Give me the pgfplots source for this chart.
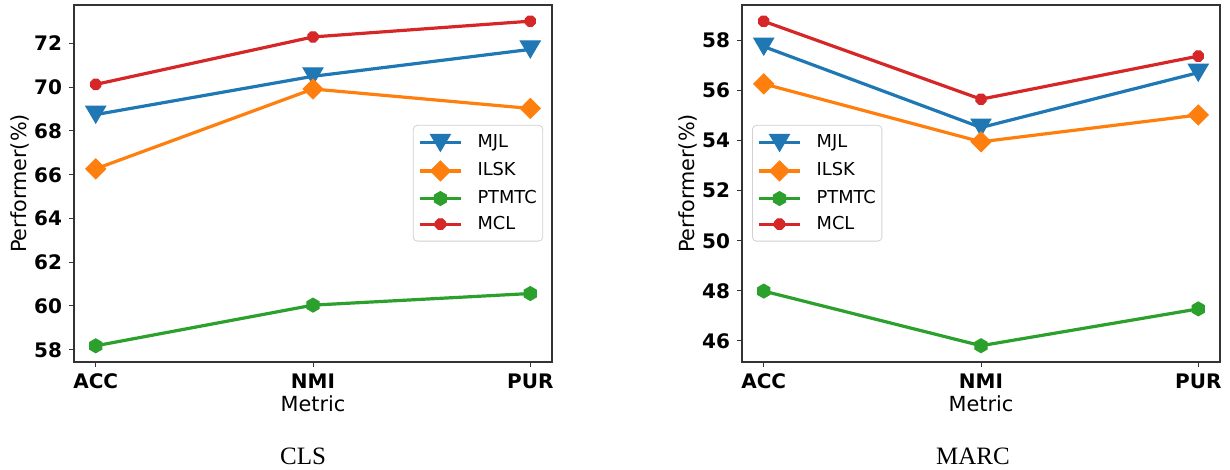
\documentclass[border=0pt]{standalone}
\usepackage{fontspec}
\setmainfont{DejaVu Sans}
\newfontfamily\capfont{Liberation Serif}
\usepackage{pgfplots}
\pgfplotsset{compat=1.18}

\definecolor{mblue}{HTML}{1F77B4}
\definecolor{morange}{HTML}{FF7F0E}
\definecolor{mgreen}{HTML}{2CA02C}
\definecolor{mred}{HTML}{D62728}

\pgfdeclareplotmark{tridown*}{%
  \pgfpathmoveto{\pgfqpoint{-\pgfplotmarksize}{0.85\pgfplotmarksize}}%
  \pgfpathlineto{\pgfqpoint{\pgfplotmarksize}{0.85\pgfplotmarksize}}%
  \pgfpathlineto{\pgfqpoint{0pt}{-0.85\pgfplotmarksize}}%
  \pgfpathclose\pgfusepathqfillstroke}
\pgfdeclareplotmark{dia*}{%
  \pgfpathmoveto{\pgfqpoint{0pt}{\pgfplotmarksize}}%
  \pgfpathlineto{\pgfqpoint{\pgfplotmarksize}{0pt}}%
  \pgfpathlineto{\pgfqpoint{0pt}{-\pgfplotmarksize}}%
  \pgfpathlineto{\pgfqpoint{-\pgfplotmarksize}{0pt}}%
  \pgfpathclose\pgfusepathqfillstroke}
\pgfdeclareplotmark{hex*}{%
  \pgfpathmoveto{\pgfqpointpolar{90}{\pgfplotmarksize}}%
  \pgfpathlineto{\pgfqpointpolar{150}{\pgfplotmarksize}}%
  \pgfpathlineto{\pgfqpointpolar{210}{\pgfplotmarksize}}%
  \pgfpathlineto{\pgfqpointpolar{270}{\pgfplotmarksize}}%
  \pgfpathlineto{\pgfqpointpolar{330}{\pgfplotmarksize}}%
  \pgfpathlineto{\pgfqpointpolar{30}{\pgfplotmarksize}}%
  \pgfpathclose\pgfusepathqfillstroke}
\pgfdeclareplotmark{oct*}{%
  \pgfpathmoveto{\pgfqpointpolar{22.5}{\pgfplotmarksize}}%
  \pgfpathlineto{\pgfqpointpolar{67.5}{\pgfplotmarksize}}%
  \pgfpathlineto{\pgfqpointpolar{112.5}{\pgfplotmarksize}}%
  \pgfpathlineto{\pgfqpointpolar{157.5}{\pgfplotmarksize}}%
  \pgfpathlineto{\pgfqpointpolar{202.5}{\pgfplotmarksize}}%
  \pgfpathlineto{\pgfqpointpolar{247.5}{\pgfplotmarksize}}%
  \pgfpathlineto{\pgfqpointpolar{292.5}{\pgfplotmarksize}}%
  \pgfpathlineto{\pgfqpointpolar{337.5}{\pgfplotmarksize}}%
  \pgfpathclose\pgfusepathqfillstroke}

\pgfplotsset{
  mystyle/.style={
    scale only axis, width=239pt, height=178.5pt,
    xmin=-0.1, xmax=2.1,
    xtick={0,1,2}, xticklabels={ACC,NMI,PUR},
    tick align=outside, tick pos=left, major tick length=2.5pt,
    tick style={black!80, line width=0.5pt},
    axis line style={black!80, line width=0.6pt},
    ticklabel style={font=\fontsize{10}{11}\selectfont\bfseries},
    /pgf/number format/assume math mode=true,
    xlabel=Metric, ylabel={Performer(\%)},
    label style={font=\fontsize{10.4}{12}\selectfont},
    xlabel style={at={(axis description cs:0.5,-0.118)}, anchor=center},
    ylabel style={at={(axis description cs:-0.113,0.5)}, anchor=center},
    legend cell align=left,
    legend style={font=\fontsize{8.9}{10}\selectfont, draw=black!18, rounded corners=2pt,
      fill=white, inner xsep=2.5pt, inner ysep=4.5pt, row sep=4.8pt,
      nodes={inner xsep=0.5pt, inner ysep=0pt, text height=6.5pt, text depth=1.5pt},
      /tikz/every odd column/.append style={column sep=7pt}},
    legend image code/.code={%
      \draw[mark repeat=2,mark phase=2] plot coordinates {(0pt,0pt) (10.25pt,0pt) (20.5pt,0pt)};},
    every axis plot/.append style={line width=1.6pt},
  },
  sMJL/.style={color=mblue, mark=tridown*, mark size=5pt, mark options={solid, fill=mblue, line width=0.5pt}},
  sILSK/.style={color=morange, mark=dia*, mark size=5pt, mark options={solid, fill=morange, line width=0.5pt}},
  sPTMTC/.style={color=mgreen, mark=hex*, mark size=3.5pt, mark options={solid, fill=mgreen, line width=0.5pt}},
  sMCL/.style={color=mred, mark=oct*, mark size=2.8pt, mark options={solid, fill=mred, line width=0.5pt}},
}

\begin{document}
\begin{tikzpicture}
\useasboundingbox (0,0) rectangle (615pt,235pt);
\begin{axis}[mystyle, at={(37pt,54pt)}, anchor=south west,
  ymin=57.44, ymax=73.76, ytick={58,60,62,64,66,68,70,72},
  legend style={at={(axis description cs:0.709,0.664)}, anchor=north west}]
\addplot[sMJL] coordinates {(0,68.75) (1,70.5) (2,71.73)};
\addlegendentry{MJL}
\addplot[sILSK] coordinates {(0,66.27) (1,69.92) (2,69.03)};
\addlegendentry{ILSK}
\addplot[sPTMTC] coordinates {(0,58.18) (1,60.04) (2,60.57)};
\addlegendentry{PTMTC}
\addplot[sMCL] coordinates {(0,70.13) (1,72.3) (2,73.02)};
\addlegendentry{MCL}
\end{axis}
\begin{axis}[mystyle, at={(371pt,54pt)}, anchor=south west,
  ymin=45.16, ymax=59.41, ytick={46,48,50,52,54,56,58},
  legend style={at={(axis description cs:0.021,0.664)}, anchor=north west}]
\addplot[sMJL] coordinates {(0,57.75) (1,54.52) (2,56.71)};
\addlegendentry{MJL}
\addplot[sILSK] coordinates {(0,56.26) (1,53.95) (2,55.02)};
\addlegendentry{ILSK}
\addplot[sPTMTC] coordinates {(0,47.99) (1,45.81) (2,47.28)};
\addlegendentry{PTMTC}
\addplot[sMCL] coordinates {(0,58.76) (1,55.65) (2,57.37)};
\addlegendentry{MCL}
\end{axis}
\node[font=\capfont\fontsize{12.5}{14}\selectfont, anchor=center] at (151.5pt,7pt) {CLS};
\node[font=\capfont\fontsize{12.5}{14}\selectfont, anchor=center] at (486.5pt,7pt) {MARC};
\end{tikzpicture}
\end{document}
